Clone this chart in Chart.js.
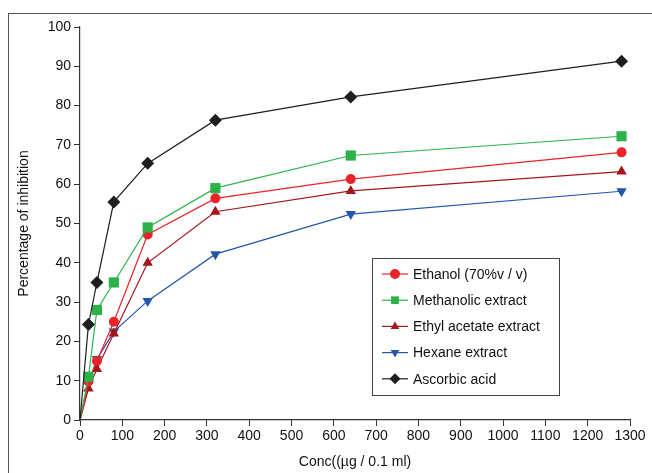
<!DOCTYPE html>
<html>
<head>
<meta charset="utf-8">
<script src="https://cdn.jsdelivr.net/npm/chart.js@4.4.1/dist/chart.umd.min.js"></script>
<style>
  html, body { margin: 0; padding: 0; background: #fff; }
  #wrap { width: 652px; height: 473px; }
</style>
</head>
<body>
<div id="wrap"><canvas id="inhibitionChart" width="652" height="473"></canvas></div>
<script>
// concentrations (µg/0.1 ml)
const conc = [0, 20, 40, 80, 160, 320, 640, 1280];

const ethanol   = [0, 9.8, 15, 25, 47.2, 56.4, 61.3, 68.1];
const methanol  = [0, 11, 28, 35, 49, 59, 67.3, 72.2];
const ethylAc   = [0, 8, 13, 22, 40, 53, 58.3, 63.2];
const hexane    = [0, 9.5, 15.5, 22.5, 30.3, 42.2, 52.4, 58.2];
const ascorbic  = [0, 24.3, 35, 55.5, 65.3, 76.3, 82.2, 91.3];

const seriesLabels = ['Ethanol (70%v / v)', 'Methanolic extract', 'Ethyl acetate extract', 'Hexane extract', 'Ascorbic acid'];

const FONT = '"Liberation Sans", Arial, Helvetica, sans-serif';

function toPoints(vals) {
  return conc.map((c, i) => ({ x: c, y: vals[i] }));
}

function makeSet(label, vals, color, style, radius, rotation, order) {
  return {
    label: label,
    data: toPoints(vals),
    borderColor: color,
    backgroundColor: color,
    borderWidth: 1.2,
    pointStyle: style,
    pointRotation: rotation,
    pointRadius: ctx => ctx.dataIndex === 0 ? 0 : radius,
    pointBorderWidth: 0,
    pointBorderColor: color,
    tension: 0,
    order: order
  };
}

const datasets = [
  makeSet(seriesLabels[0], ethanol, '#e8252b', 'circle', 5, 0, 3),
  makeSet(seriesLabels[1], methanol, '#2db24a', 'rect', 7.2, 0, 2),
  makeSet(seriesLabels[2], ethylAc, '#a3161c', 'triangle', 6, 0, 4),
  makeSet(seriesLabels[3], hexane, '#2356a8', 'triangle', 6, 180, 5),
  makeSet(seriesLabels[4], ascorbic, '#1e1e1e', 'rectRot', 6.5, 0, 1)
];

// outer frame around the figure
const framePlugin = {
  id: 'frame',
  beforeDraw(chart) {
    const ctx = chart.ctx;
    ctx.save();
    ctx.strokeStyle = '#555';
    ctx.lineWidth = 1;
    ctx.strokeRect(8.5, 13.5, 700, 700);
    ctx.restore();
  }
};

// boxed legend inside the plot
const legendBox = {
  id: 'legendBox',
  afterDraw(chart) {
    const ctx = chart.ctx;
    const x0 = 372, y0 = 258, w = 187, h = 137;
    ctx.save();
    ctx.fillStyle = '#fff';
    ctx.fillRect(x0, y0, w, h);
    ctx.strokeStyle = '#444';
    ctx.lineWidth = 1;
    ctx.strokeRect(x0 + 0.5, y0 + 0.5, w, h);
    ctx.font = '14px ' + FONT;
    ctx.textBaseline = 'middle';
    chart.data.datasets.forEach((ds, i) => {
      const y = 274 + i * 26.2;
      ctx.strokeStyle = ds.borderColor;
      ctx.lineWidth = 1.2;
      ctx.beginPath();
      ctx.moveTo(382, y);
      ctx.lineTo(408, y);
      ctx.stroke();
      ctx.fillStyle = ds.backgroundColor;
      Chart.helpers.drawPoint(ctx, {
        pointStyle: ds.pointStyle,
        radius: i === 4 ? 5.5 : (i === 1 ? 5.5 : 5),
        rotation: ds.pointRotation,
        borderWidth: 0
      }, 395, y);
      ctx.fillStyle = '#111';
      ctx.fillText(ds.label, 413, y + 1);
    });
    ctx.restore();
  }
};

new Chart(document.getElementById('inhibitionChart'), {
  type: 'line',
  data: { datasets: datasets },
  options: {
    responsive: false,
    animation: false,
    layout: { padding: { top: 27, right: 22, left: 0, bottom: 0 } },
    plugins: {
      legend: { display: false },
      tooltip: { enabled: false }
    },
    scales: {
      x: {
        type: 'linear',
        min: 0,
        max: 1300,
        afterFit: s => { s.height = 53; },
        ticks: { stepSize: 100, color: '#111', font: { family: FONT, size: 14 }, padding: 2, maxRotation: 0, autoSkip: false,
                 callback: v => String(v) },
        grid: { drawOnChartArea: false, drawTicks: true, tickLength: 6, color: '#333' },
        border: { display: true, color: '#333', width: 1.2 },
        title: { display: true, text: 'Conc((µg / 0.1 ml)', color: '#111', font: { family: FONT, size: 14 }, padding: { top: 0, bottom: 2 } }
      },
      y: {
        min: 0,
        max: 100,
        afterFit: s => { s.width = 80; },
        ticks: { stepSize: 10, color: '#111', font: { family: FONT, size: 14 }, padding: 3 },
        grid: { drawOnChartArea: false, drawTicks: true, tickLength: 6, color: '#333' },
        border: { display: true, color: '#333', width: 1.2 },
        title: { display: true, text: 'Percentage of inhibition', color: '#111', font: { family: FONT, size: 14 }, padding: { top: 16, bottom: 0 } }
      }
    }
  },
  plugins: [framePlugin, legendBox]
});
</script>
</body>
</html>
